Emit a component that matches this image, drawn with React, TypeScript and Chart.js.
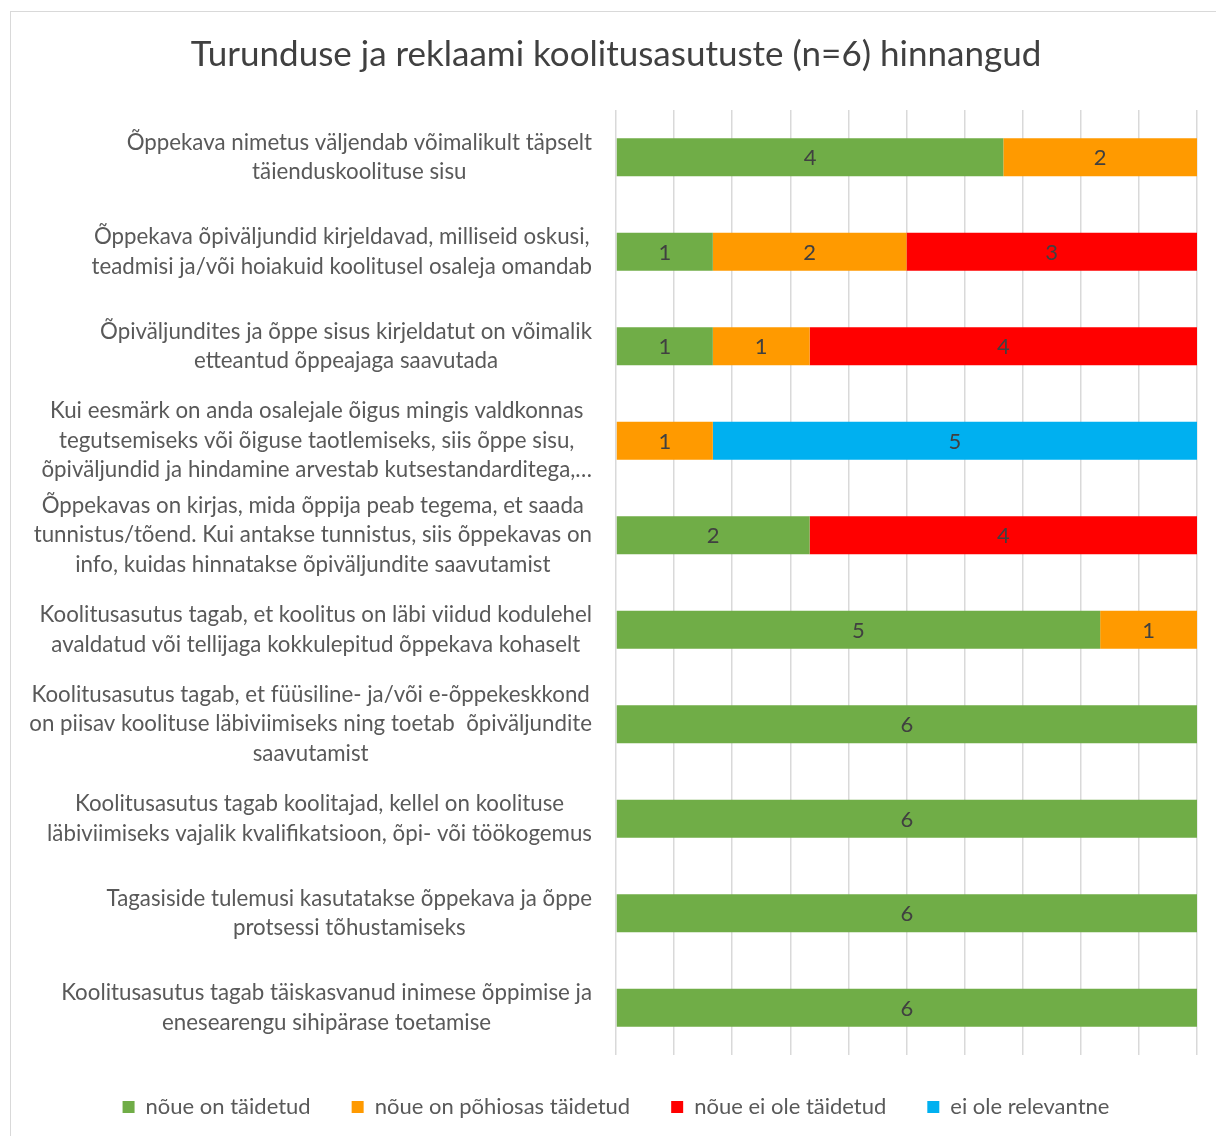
import React, { useEffect, useRef } from "react";
import { Chart, registerables } from "chart.js";

Chart.register(...registerables);

const TITLE = "Turunduse ja reklaami koolitusasutuste (n=6) hinnangud";

const categories: string[][] = [
  ["Õppekava nimetus väljendab võimalikult täpselt", "täienduskoolituse sisu"],
  ["Õppekava õpiväljundid kirjeldavad, milliseid oskusi,", "teadmisi ja/või hoiakuid koolitusel osaleja omandab"],
  ["Õpiväljundites ja õppe sisus kirjeldatut on võimalik", "etteantud õppeajaga saavutada"],
  [
    "Kui eesmärk on anda osalejale õigus mingis valdkonnas",
    "tegutsemiseks või õiguse taotlemiseks, siis õppe sisu,",
    "õpiväljundid ja hindamine arvestab kutsestandarditega,…",
  ],
  [
    "Õppekavas on kirjas, mida õppija peab tegema, et saada",
    "tunnistus/tõend. Kui antakse tunnistus, siis õppekavas on",
    "info, kuidas hinnatakse õpiväljundite saavutamist",
  ],
  ["Koolitusasutus tagab, et koolitus on läbi viidud kodulehel", "avaldatud või tellijaga kokkulepitud õppekava kohaselt"],
  [
    "Koolitusasutus tagab, et füüsiline- ja/või e-õppekeskkond",
    "on piisav koolituse läbiviimiseks ning toetab  õpiväljundite",
    "saavutamist",
  ],
  ["Koolitusasutus tagab koolitajad, kellel on koolituse", "läbiviimiseks vajalik kvalifikatsioon, õpi- või töökogemus"],
  ["Tagasiside tulemusi kasutatakse õppekava ja õppe", "protsessi tõhustamiseks"],
  ["Koolitusasutus tagab täiskasvanud inimese õppimise ja", "enesearengu sihipärase toetamise"],
];

const seriesNames = [
  "nõue on täidetud",
  "nõue on põhiosas täidetud",
  "nõue ei ole täidetud",
  "ei ole relevantne",
];

const taidetud = [4, 1, 1, 0, 2, 5, 6, 6, 6, 6];
const pohiosasTaidetud = [2, 2, 1, 1, 0, 1, 0, 0, 0, 0];
const eiOleTaidetud = [0, 3, 4, 0, 4, 0, 0, 0, 0, 0];
const eiOleRelevantne = [0, 0, 0, 5, 0, 0, 0, 0, 0, 0];

const seriesColors = ["#70AD47", "#FF9A00", "#FF0000", "#00B0F0"];

const X_MIN = 0;
const X_MAX = 6;
const X_STEP = 0.6;

const FONT = 'Lato, "Open Sans", sans-serif';
const LABEL_COLOR = "#595959";
const VALUE_COLOR = "#404040";

const categoryLabelsPlugin = {
  id: "categoryLabels",
  afterDraw(chart: any) {
    const ctx = chart.ctx;
    const yScale = chart.scales.y;
    const right = chart.chartArea.left - 24;
    const lineH = 29.5;
    ctx.save();
    ctx.font = `22.3px ${FONT}`;
    ctx.fillStyle = LABEL_COLOR;
    ctx.textAlign = "center";
    ctx.textBaseline = "middle";
    categories.forEach((lines, i) => {
      const cy = yScale.getPixelForValue(i);
      const maxW = Math.max(...lines.map((l) => ctx.measureText(l).width));
      const cx = right - maxW / 2;
      lines.forEach((line, j) => {
        ctx.fillText(line, cx, cy + (j - (lines.length - 1) / 2) * lineH);
      });
    });
    ctx.restore();
  },
};

const valueLabelsPlugin = {
  id: "valueLabels",
  afterDatasetsDraw(chart: any) {
    const ctx = chart.ctx;
    ctx.save();
    ctx.font = `22px ${FONT}`;
    ctx.fillStyle = VALUE_COLOR;
    ctx.textAlign = "center";
    ctx.textBaseline = "middle";
    chart.data.datasets.forEach((ds: any, di: number) => {
      const meta = chart.getDatasetMeta(di);
      meta.data.forEach((bar: any, i: number) => {
        const v = ds.data[i];
        if (!v) return;
        const cx = (bar.x + bar.base) / 2;
        ctx.fillText(String(v), cx, bar.y + 1);
      });
    });
    ctx.restore();
  },
};

export default function App() {
  const canvasRef = useRef<HTMLCanvasElement | null>(null);

  useEffect(() => {
    if (!canvasRef.current) return;
    const seriesData = [taidetud, pohiosasTaidetud, eiOleTaidetud, eiOleRelevantne];
    const chart = new Chart(canvasRef.current, {
      type: "bar",
      data: {
        labels: categories.map((c) => c.join(" ")),
        datasets: seriesNames.map((name, i) => ({
          label: name,
          data: seriesData[i],
          backgroundColor: seriesColors[i],
          borderWidth: 0,
          barPercentage: 0.4,
          categoryPercentage: 1,
        })),
      },
      options: {
        indexAxis: "y",
        responsive: false,
        animation: false,
        layout: { padding: { left: 0, right: 0, top: 0, bottom: 8 } },
        scales: {
          x: {
            stacked: true,
            min: X_MIN,
            max: X_MAX,
            ticks: { display: false, stepSize: X_STEP },
            grid: { color: "#d9d9d9", lineWidth: 1.5, drawTicks: false },
            border: { display: false },
            afterFit: (s: any) => {
              s.height = 0;
            },
          },
          y: {
            stacked: true,
            ticks: { display: false },
            grid: { display: false, drawTicks: false },
            border: { display: false },
            afterFit: (s: any) => {
              s.width = 608;
            },
          },
          yRight: {
            type: "category",
            position: "right",
            ticks: { display: false },
            grid: { display: false, drawTicks: false },
            border: { display: false },
            afterFit: (s: any) => {
              s.width = 27;
            },
          },
        },
        plugins: {
          title: {
            display: true,
            text: TITLE,
            color: "#404040",
            font: { family: FONT, size: 35, weight: "normal" },
            padding: { top: 26, bottom: 34 },
          },
          legend: {
            display: true,
            position: "bottom",
            labels: {
              boxWidth: 12,
              boxHeight: 12,
              padding: 41,
              color: LABEL_COLOR,
              font: { family: FONT, size: 22 },
            },
          },
          tooltip: { enabled: false },
        },
      },
      plugins: [categoryLabelsPlugin, valueLabelsPlugin],
    } as any);
    return () => chart.destroy();
  }, []);

  return (
    <div style={{ position: "relative", width: 1216, height: 1128, overflow: "hidden", background: "#fff" }}>
      <div
        style={{
          position: "absolute",
          left: 2,
          top: 3,
          width: 1300,
          height: 1300,
          border: "1px solid #d9d9d9",
          boxSizing: "border-box",
        }}
      />
      <canvas
        ref={canvasRef}
        width={1216}
        height={1128}
        style={{ position: "absolute", left: 0, top: 0, width: 1216, height: 1128 }}
      />
    </div>
  );
}
